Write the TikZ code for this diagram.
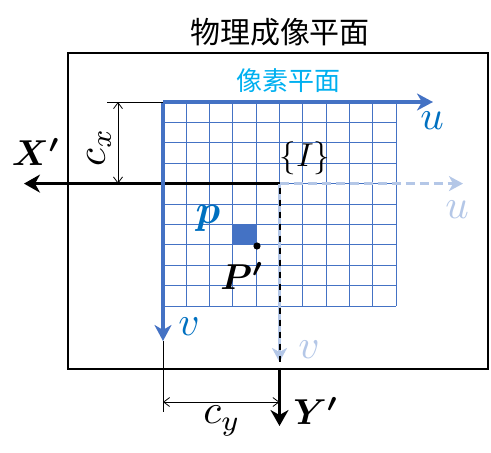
\documentclass[tikz,border=0pt]{standalone}
\usepackage{fontspec}
\usepackage{amsmath,bm}
\usetikzlibrary{arrows.meta}
\newfontfamily\cjk{Noto Sans CJK SC}
\definecolor{gridblue}{HTML}{4472C4}
\definecolor{labblue}{HTML}{0070C0}
\definecolor{lightax}{HTML}{B4C7E7}
\definecolor{cyantext}{HTML}{00B0F0}
\begin{document}
\begin{tikzpicture}[x=1pt,y=-1pt,
  gridline/.style={gridblue, line width=0.9pt},
  bluaxis/.style={gridblue, line width=3.6pt, -{Stealth[length=16pt,width=17pt,inset=5pt]}},
  lightaxis/.style={lightax, line width=2.6pt, -{Stealth[length=14pt,width=15pt,inset=4pt]}},
  blackaxis/.style={black, line width=2.4pt, -{Stealth[length=16pt,width=18pt,inset=5pt]}},
  dimline/.style={black, line width=0.8pt, {Straight Barb[length=6pt,width=9pt]}-{Straight Barb[length=6pt,width=9pt]}},
  thin/.style={black, line width=0.8pt},
  lbl/.style={inner sep=0pt, scale=3.6},
  lowlbl/.style={inner sep=0pt, scale=4.1},
]
\useasboundingbox (0,0) rectangle (491,453);
% outer frame
\draw[line width=2pt] (68,53) rectangle (488,369);
% title
\node[inner sep=0pt, font=\cjk\fontsize{30}{30}\selectfont] (title) at (280,32) {物理成像平面};
\node[inner sep=0pt, text=cyantext, font=\cjk\fontsize{26}{26}\selectfont] (pixplane) at (288,81) {像素平面};
% grid
\foreach \i in {1,...,10} {
  \draw[gridline] ({163+\i*23.3},102) -- ({163+\i*23.3},306);
  \draw[gridline] (163,{102+\i*20.4}) -- (396,{102+\i*20.4});
}
% pixel p
\fill[gridblue] (232.9,224.4) rectangle (256.2,244.8);
% coordinates
\coordinate (O) at (163,102);
\coordinate (C) at (279.5,183.6);
\coordinate (utip) at (433,102);
\coordinate (vtip) at (163,341);
\coordinate (Xtip) at (24,183.6);
\coordinate (lutip) at (463,183.6);
\coordinate (lvtip) at (279.5,362);
\coordinate (Cbot) at (279.5,369);
\coordinate (Ytip) at (279.5,426);
% black X' axis
\draw[blackaxis] (C) -- (Xtip);
% blue pixel axes
\draw[bluaxis] (O) -- (utip);
\draw[bluaxis] (O) -- (vtip);
% light axes of {I}
\draw[lightaxis, dash pattern=on 9pt off 5pt] (C) -- (lutip);
\draw[lightaxis] (C) -- (lvtip);
% black Y' axis
\draw[black, line width=2pt, dash pattern=on 6pt off 6pt, dash phase=-4pt] (C) -- (Cbot);
\draw[blackaxis] (Cbot) -- (Ytip);
% point P'
\fill (257,246) circle (3.6pt);
\coordinate (Pp) at (257,246);
% dimension c_x
\coordinate (cxa) at (107,102);
\coordinate (cxt) at (118,102);
\coordinate (cxb) at (118,183.6);
\draw[thin] (cxa) -- (O);
\draw[dimline] (cxt) -- (cxb);
\node[lowlbl, rotate=90] (cx) at (99,147) {$c_x$};
% dimension c_y
\coordinate (cya) at (163,412);
\coordinate (cyl) at (163,402);
\coordinate (cyr) at (279.5,402);
\draw[thin] (vtip) -- (cya);
\draw[dimline] (cyl) -- (cyr);
\node[lowlbl] (cy) at (222,421) {$c_y$};
% labels
\node[lowlbl, text=labblue] (ulab) at (432,121) {$u$};
\node[lowlbl, text=labblue] (vlab) at (189,327) {$v$};
\node[lowlbl, text=lightax] (lulab) at (457,210) {$u$};
\node[lowlbl, text=lightax] (lvlab) at (309,350) {$v$};
\node[lbl, scale=0.92] (Ilab) at (305,158) {$\{I\}$};
\node[lowlbl, text=labblue] (plab) at (208,218) {$\bm{p}$};
\node[lbl] (Plab) at (242,276) {$\bm{P'}$};
\node[lbl] (Xlab) at (36,152) {$\bm{X'}$};
\node[lbl] (Ylab) at (316,411) {$\bm{Y'}$};
\end{tikzpicture}
\end{document}
